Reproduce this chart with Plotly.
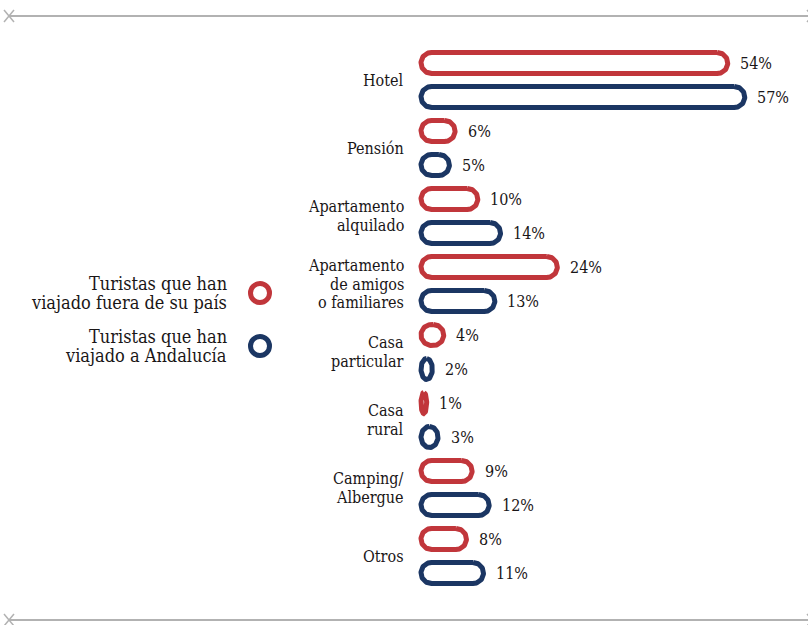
import numpy as np
import plotly.graph_objects as go

# ---------------- data ----------------
categories = [
    "Hotel",
    "Pensión",
    "Apartamento<br>alquilado",
    "Apartamento<br>de amigos<br>o familiares",
    "Casa<br>particular",
    "Casa<br>rural",
    "Camping/<br>Albergue",
    "Otros",
]
fuera_pais = [54, 6, 10, 24, 4, 1, 9, 8]
andalucia = [57, 5, 14, 13, 2, 3, 12, 11]
series_names = [
    "Turistas que han<br>viajado fuera de su país",
    "Turistas que han<br>viajado a Andalucía",
]
series_values = [fuera_pais, andalucia]
series_colors = ["#c1363b", "#1b3663"]

# ---------------- layout geometry ----------------
W, H = 808, 625
PX_PER_PCT = 5.68       # horizontal scale
X0_PX = 421             # pixel of 0 %
ROW_PX = 68             # pixels per category
FIRST_PX = 80           # pixel centre of first category
BAR_OFFSET = 0.25       # offset of each series from category centre
HALF_H_PX = 10.5        # half-height of pill (stroke centre line)
STROKE = 5

x_range = [-X0_PX / PX_PER_PCT, (W - X0_PX) / PX_PER_PCT]
y_range = [(H - FIRST_PX) / ROW_PX, -FIRST_PX / ROW_PX]

FONT = "DejaVu Serif Condensed, DejaVu Serif, serif"
TXT = "#1a1617"


def pill(v, yc):
    w_px = v * PX_PER_PCT
    rx = min(HALF_H_PX, w_px / 2) / PX_PER_PCT
    hh = HALF_H_PX / ROW_PX
    xs, ys = [], []
    corners = [
        (v - rx, yc, -90, 90),
        (rx, yc, 90, 270),
    ]
    for cx, cy, a0, a1 in corners:
        t = np.radians(np.linspace(a0, a1, 40))
        xs += list(cx + rx * np.cos(t))
        ys += list(cy + hh * np.sin(t))
    xs.append(xs[0])
    ys.append(ys[0])
    return xs, ys


fig = go.Figure()
annotations = []

for s, (vals, col) in enumerate(zip(series_values, series_colors)):
    off = -BAR_OFFSET if s == 0 else BAR_OFFSET
    for i, v in enumerate(vals):
        yc = i + off
        xs, ys = pill(v, yc)
        fig.add_trace(go.Scatter(
            x=xs, y=ys, mode="lines", fill="toself", fillcolor="white",
            line=dict(color=col, width=STROKE), hoverinfo="skip", showlegend=False,
        ))
        annotations.append(dict(
            x=v, y=yc, xref="x", yref="y", text=f"{v}%", showarrow=False,
            xanchor="left", yanchor="middle", xshift=STROKE / 2 + 8,
            font=dict(family=FONT, size=16, color=TXT),
        ))


def multiline(text, x, y, xref, yref, xshift, lh, size):
    lines = text.split("<br>")
    n = len(lines)
    for k, ln in enumerate(lines):
        annotations.append(dict(
            x=x, y=y, xref=xref, yref=yref, text=ln, showarrow=False,
            xanchor="right", yanchor="middle", xshift=xshift,
            yshift=-(k - (n - 1) / 2) * lh,
            font=dict(family=FONT, size=size, color=TXT),
        ))


for i, c in enumerate(categories):
    multiline(c, 0, i, "x", "y", -15, 18.5, 16)


def px(x):
    return x / W


def py(y):
    return 1 - y / H


shapes = []
# legend
legend_y = [293, 346]
for name, col, ly in zip(series_names, series_colors, legend_y):
    multiline(name, px(229), py(ly), "paper", "paper", 0, 19.5, 18)
    r = 9.5
    shapes.append(dict(
        type="circle", xref="paper", yref="paper",
        x0=px(260 - r), x1=px(260 + r), y0=py(ly + r), y1=py(ly - r),
        line=dict(color=col, width=STROKE), fillcolor="white",
    ))

# top / bottom rules with x marks
grey = "#b2b2b2"
for yy in (16, 620):
    shapes.append(dict(type="line", xref="paper", yref="paper",
                       x0=px(9), x1=px(808), y0=py(yy), y1=py(yy),
                       line=dict(color=grey, width=2)))
    for cxp in (9, 812):
        shapes.append(dict(type="line", xref="paper", yref="paper",
                           x0=px(cxp - 5), x1=px(cxp + 5), y0=py(yy - 6), y1=py(yy + 6),
                           line=dict(color=grey, width=1.5)))
        shapes.append(dict(type="line", xref="paper", yref="paper",
                           x0=px(cxp - 5), x1=px(cxp + 5), y0=py(yy + 6), y1=py(yy - 6),
                           line=dict(color=grey, width=1.5)))

fig.update_layout(
    width=W, height=H,
    margin=dict(l=0, r=0, t=0, b=0),
    paper_bgcolor="white", plot_bgcolor="white",
    xaxis=dict(range=x_range, visible=False, fixedrange=True),
    yaxis=dict(range=y_range, visible=False, fixedrange=True),
    annotations=annotations,
    shapes=shapes,
    showlegend=False,
)

fig.write_html("out.html")
